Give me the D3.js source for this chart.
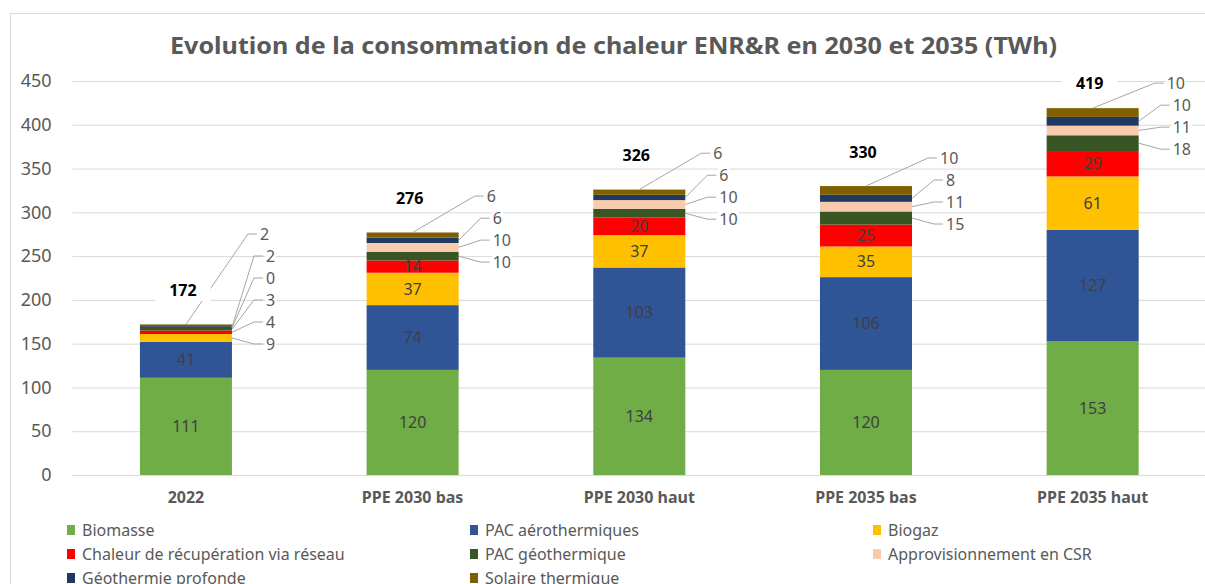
<!DOCTYPE html>
<html>
<head>
<meta charset="utf-8">
<script src="https://cdn.jsdelivr.net/npm/d3@7"></script>
<style>
  html, body { margin: 0; padding: 0; background: #fff; }
  svg { display: block; font-family: "Noto Sans", "Open Sans", sans-serif; }
</style>
</head>
<body>
<div id="chart"></div>
<script>
// chart values
const categories = ["2022", "PPE 2030 bas", "PPE 2030 haut", "PPE 2035 bas", "PPE 2035 haut"];
const seriesNames = [
  "Biomasse", "PAC aérothermiques", "Biogaz",
  "Chaleur de récupération via réseau", "PAC géothermique", "Approvisionnement en CSR",
  "Géothermie profonde", "Solaire thermique",
];
const seriesColors = ["#70ad47", "#2f5597", "#ffc000", "#ff0000", "#375623", "#f8cbad", "#1f3864", "#7f6000"];
const biomasse = [111, 120, 134, 120, 153];
const pacAero = [41, 74, 103, 106, 127];
const biogaz = [9, 37, 37, 35, 61];
const chaleur = [4, 14, 20, 25, 29];
const pacGeo = [3, 10, 10, 15, 18];
const csr = [0, 10, 10, 11, 11];
const geoProfonde = [2, 6, 6, 8, 10];
const solaire = [2, 6, 6, 10, 10];
const totals = [172, 276, 326, 330, 419];
const yTicks = [0, 50, 100, 150, 200, 250, 300, 350, 400, 450];

const seriesValues = [biomasse, pacAero, biogaz, chaleur, pacGeo, csr, geoProfonde, solaire];

const width = 1205;
const height = 584;
const margin = { top: 81, right: -1, bottom: 109, left: 72.6 };

const table = categories.map((c, i) => {
  const row = { category: c, index: i };
  seriesNames.forEach((s, j) => (row[s] = seriesValues[j][i]));
  return row;
});

const stacked = d3.stack().keys(seriesNames)(table);

const x = d3
  .scaleBand()
  .domain(categories)
  .range([margin.left, width - margin.right])
  .paddingInner(0.594)
  .paddingOuter(0.297);

const y = d3
  .scaleLinear()
  .domain([0, 450])
  .range([height - margin.bottom, margin.top]);

const svg = d3
  .select("#chart")
  .append("svg")
  .attr("width", width)
  .attr("height", height);

// chart area border
svg
  .append("rect")
  .attr("x", 10.5)
  .attr("y", 13.5)
  .attr("width", 1300)
  .attr("height", 700)
  .attr("fill", "none")
  .attr("stroke", "#d9d9d9");

// title
svg
  .append("text")
  .attr("x", 613.5)
  .attr("y", 54)
  .attr("text-anchor", "middle")
  .attr("font-size", 24)
  .attr("font-weight", "bold")
  .attr("fill", "#595959")
  .attr("textLength", 887)
  .attr("lengthAdjust", "spacingAndGlyphs")
  .text("Evolution de la consommation de chaleur ENR&R en 2030 et 2035 (TWh)");

// grid + y axis
const yAxis = svg
  .append("g")
  .attr("transform", `translate(${margin.left},0)`)
  .call(
    d3
      .axisLeft(y)
      .tickValues(yTicks)
      .tickSize(-(width - margin.left + 10))
      .tickPadding(21),
  );
yAxis.select(".domain").remove();
yAxis.selectAll(".tick line").attr("stroke", "#d9d9d9");
yAxis
  .selectAll(".tick text")
  .attr("font-size", 18)
  .attr("fill", "#595959")
  .attr("font-family", "Noto Sans, sans-serif");

// x axis labels
const xAxis = svg
  .append("g")
  .attr("transform", `translate(0,${height - margin.bottom})`)
  .call(d3.axisBottom(x).tickSize(0).tickPadding(17));
xAxis.select(".domain").remove();
xAxis
  .selectAll(".tick text")
  .attr("font-size", 16)
  .attr("font-weight", "bold")
  .attr("fill", "#595959")
  .attr("font-family", "Noto Sans, sans-serif");

// bars
const layers = svg
  .append("g")
  .selectAll("g")
  .data(stacked)
  .join("g")
  .attr("fill", (d, i) => seriesColors[i]);

layers
  .selectAll("rect")
  .data((d) => d)
  .join("rect")
  .attr("x", (d) => x(d.data.category))
  .attr("width", x.bandwidth())
  .attr("y", (d) => y(d[1]))
  .attr("height", (d) => y(d[0]) - y(d[1]));

// which labels go outside with a leader line
const isExternal = (si, v) => si >= 4 || v < 12;

// inside labels
const inside = [];
stacked.forEach((layer, si) => {
  layer.forEach((d) => {
    const v = d[1] - d[0];
    if (!isExternal(si, v)) inside.push({ d, v });
  });
});

svg
  .append("g")
  .selectAll("text")
  .data(inside)
  .join("text")
  .attr("x", (o) => x(o.d.data.category) + x.bandwidth() / 2)
  .attr("y", (o) => y((o.d[0] + o.d[1]) / 2))
  .attr("dy", "0.35em")
  .attr("text-anchor", "middle")
  .attr("font-size", 16)
  .attr("fill", "#404040")
  .text((o) => o.v);

// outside labels with leader lines
const callouts = [];
categories.forEach((c, ci) => {
  const ext = [];
  stacked.forEach((layer, si) => {
    const d = layer[ci];
    const v = d[1] - d[0];
    if (isExternal(si, v)) ext.push({ si, d, v });
  });
  const barRight = x(c) + x.bandwidth();
  const barMid = x(c) + x.bandwidth() / 2;
  const barTop = y(stacked[stacked.length - 1][ci][1]);
  const startY = y((ext[0].d[0] + ext[0].d[1]) / 2) + 6;
  ext.forEach((e, k) => {
    const last = e.si === seriesNames.length - 1;
    const ly = startY - 22 * k;
    const tx = barRight + (last ? 28 : 34);
    callouts.push({
      text: e.v,
      tx,
      ly,
      px: last ? barMid : barRight,
      py: last ? barTop : y((e.d[0] + e.d[1]) / 2),
    });
  });
});

const callG = svg.append("g");
callG
  .selectAll("polyline")
  .data(callouts)
  .join("polyline")
  .attr("fill", "none")
  .attr("stroke", "#a6a6a6")
  .attr("stroke-width", 1)
  .attr("points", (o) => [[o.px, o.py], [o.tx - 12, o.ly], [o.tx - 3, o.ly]].join(" "));

const callText = callG
  .selectAll("g.callout")
  .data(callouts)
  .join("g")
  .attr("class", "callout");
callText
  .append("text")
  .attr("x", (o) => o.tx)
  .attr("y", (o) => o.ly)
  .attr("dy", "0.35em")
  .attr("font-size", 16)
  .attr("fill", "#595959")
  .text((o) => o.text);
callText.each(function () {
  const t = d3.select(this).select("text");
  const b = t.node().getBBox();
  d3.select(this)
    .insert("rect", "text")
    .attr("x", b.x - 1)
    .attr("y", b.y + 2)
    .attr("width", b.width + 2)
    .attr("height", b.height - 4)
    .attr("fill", "#fff");
});

// totals
const totG = svg
  .append("g")
  .selectAll("g")
  .data(categories)
  .join("g");
totG
  .append("text")
  .attr("x", (c) => x(c) + x.bandwidth() / 2 - 3)
  .attr("y", (c, i) => Math.max(y(stacked[stacked.length - 1][i][1]) - 34, margin.top + 2))
  .attr("dy", "0.35em")
  .attr("text-anchor", "middle")
  .attr("font-size", 16)
  .attr("font-weight", "bold")
  .attr("fill", "#000")
  .text((c, i) => totals[i]);
totG.each(function () {
  const b = d3.select(this).select("text").node().getBBox();
  d3.select(this)
    .insert("rect", "text")
    .attr("x", b.x - 14)
    .attr("y", b.y)
    .attr("width", b.width + 28)
    .attr("height", b.height)
    .attr("fill", "#fff");
});

// legend
const legend = svg
  .append("g")
  .selectAll("g")
  .data(seriesNames)
  .join("g")
  .attr("transform", (d, i) => `translate(${67 + (i % 3) * 403},${530 + Math.floor(i / 3) * 24})`);
legend
  .append("rect")
  .attr("x", 0)
  .attr("y", -5)
  .attr("width", 8)
  .attr("height", 10)
  .attr("fill", (d, i) => seriesColors[i]);
legend
  .append("text")
  .attr("x", 15)
  .attr("dy", "0.35em")
  .attr("font-size", 16)
  .attr("fill", "#595959")
  .text((d) => d);
</script>
</body>
</html>
